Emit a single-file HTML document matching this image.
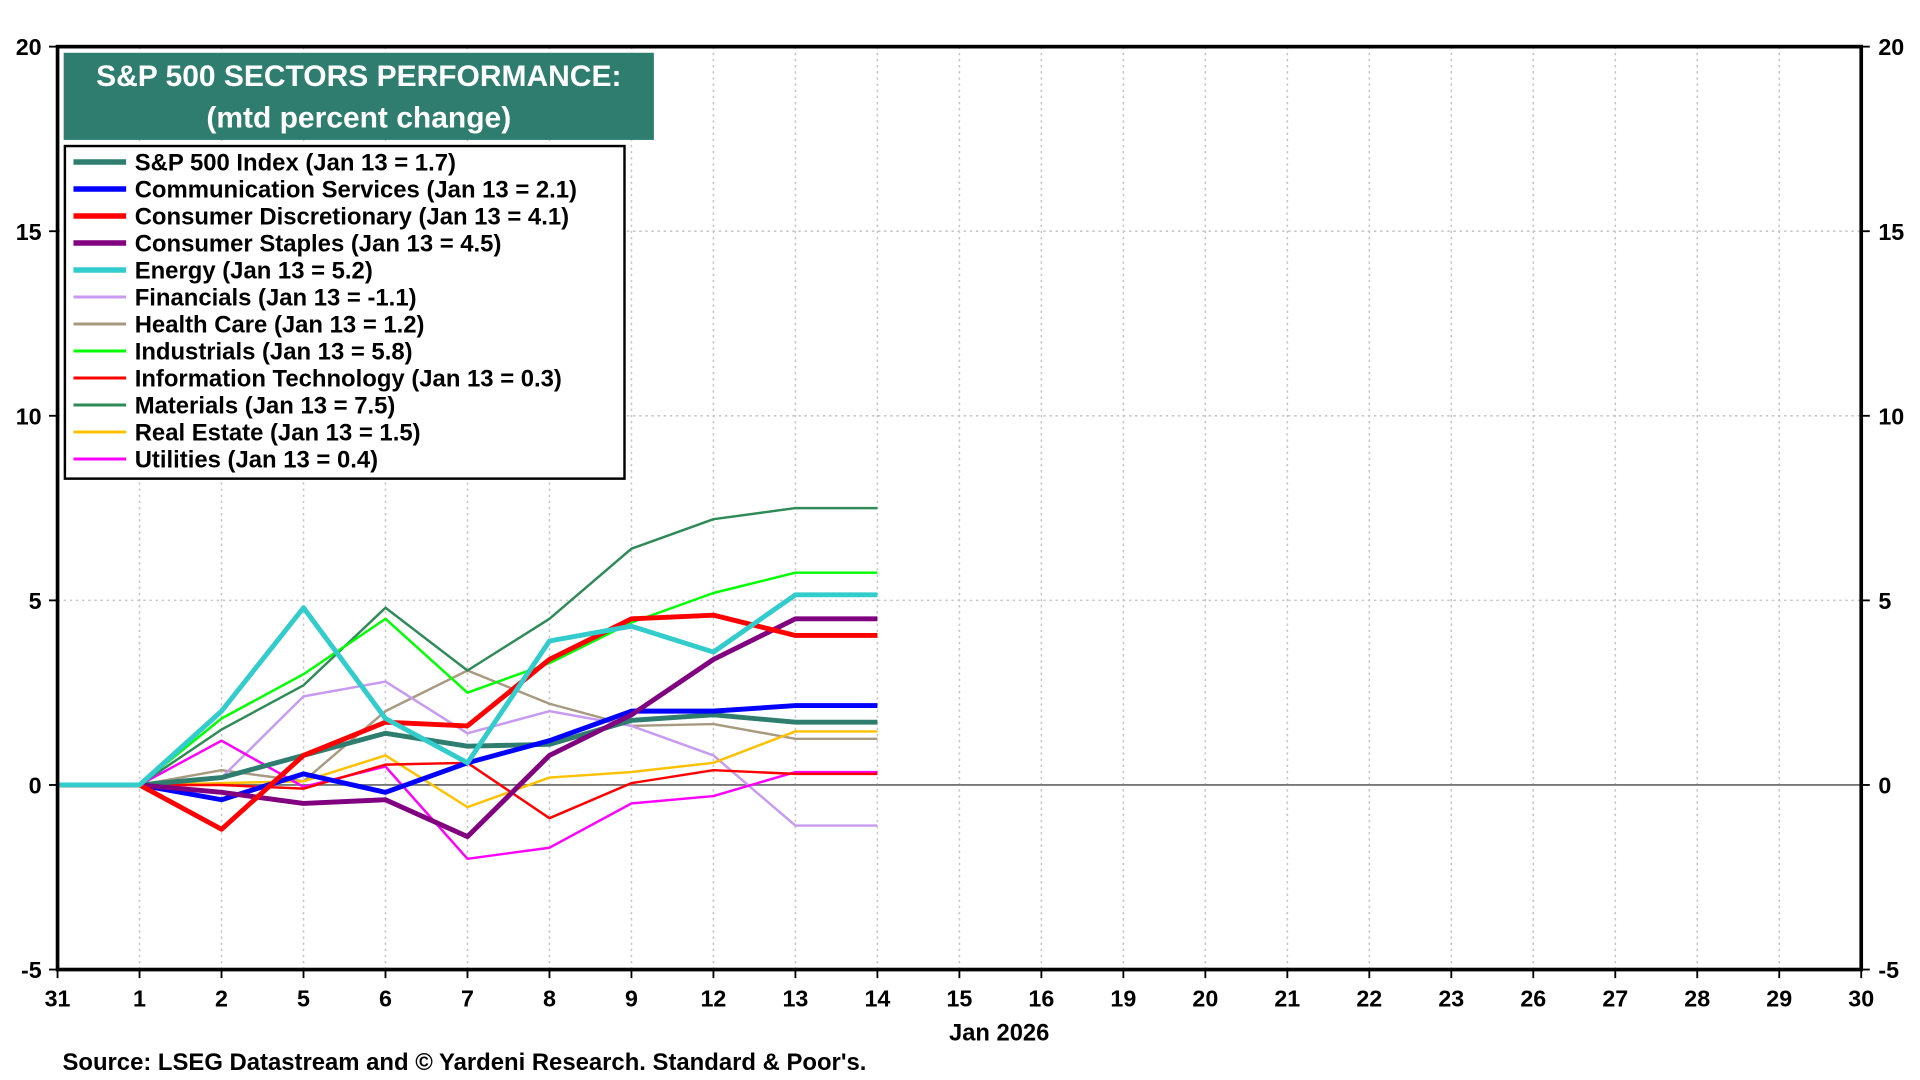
<!DOCTYPE html>
<html><head><meta charset="utf-8"><style>
html,body{margin:0;padding:0;width:100%;height:100%;overflow:hidden;background:#fff}
svg{display:block;width:100vw;height:100vh}
text{font-family:"Liberation Sans",Arial,sans-serif;font-weight:bold}
</style></head><body>
<svg viewBox="0 0 1568 880" preserveAspectRatio="none" xmlns="http://www.w3.org/2000/svg">
<g id="grid" stroke="#c8c8c8" stroke-width="1.3" stroke-dasharray="2,3"></g>
<line x1="47" y1="639.6" x2="1520" y2="639.6" stroke="#777" stroke-width="1.5"/>
<g id="series" fill="none" stroke-linejoin="round"></g>
<rect x="47" y="38" width="1473" height="752" fill="none" stroke="#000" stroke-width="3"/>
<g id="ylab" font-size="19"></g>
<g id="xlab" font-size="19" text-anchor="middle"></g>
<text x="816" y="848" font-size="19.4" text-anchor="middle">Jan 2026</text>
<text x="51" y="872" font-size="19.5">Source: LSEG Datastream and © Yardeni Research. Standard &amp; Poor's.</text>
<rect x="52" y="43" width="482" height="71" fill="#2e7d6e"/>
<text x="293" y="70" font-size="24.5" fill="#fff" text-anchor="middle">S&amp;P 500 SECTORS PERFORMANCE:</text>
<text x="293" y="104" font-size="24.5" fill="#fff" text-anchor="middle">(mtd percent change)</text>
<rect x="53" y="119" width="457" height="271" fill="#fff" stroke="#000" stroke-width="2"/>
<g id="leg" font-size="19.5"></g>
</svg>
<script>
const NS="http://www.w3.org/2000/svg";
function el(p,t,a,txt){const e=document.createElementNS(NS,t);for(const k in a)e.setAttribute(k,a[k]);if(txt!==undefined)e.textContent=txt;document.getElementById(p).appendChild(e);}
const X0=47,DX=(1520-47)/22,Y=v=>639.6-v*30.08;
const xl=[31,1,2,5,6,7,8,9,12,13,14,15,16,19,20,21,22,23,26,27,28,29,30];
xl.forEach((l,i)=>{const x=X0+i*DX;if(i>0&&i<22)el("grid","line",{x1:x,y1:38,x2:x,y2:790});
el("xlab","line",{x1:x,y1:790,x2:x,y2:797,stroke:"#000","stroke-width":1.5});
el("xlab","text",{x:x,y:820},l);});
[-5,0,5,10,15,20].forEach(v=>{const y=Y(v);if(v!==0&&v!==20&&v!==-5)el("grid","line",{x1:47,y1:y,x2:1520,y2:y});
el("ylab","text",{x:34,y:y+7,"text-anchor":"end"},v);el("ylab","text",{x:1534,y:y+7},v);
el("ylab","line",{x1:40,y1:y,x2:47,y2:y,stroke:"#000","stroke-width":1.5});el("ylab","line",{x1:1520,y1:y,x2:1527,y2:y,stroke:"#000","stroke-width":1.5});});
const S=[
["S&P 500 Index (Jan 13 = 1.7)","#2e7d6e",4,[0,0,0.2,0.8,1.4,1.05,1.1,1.75,1.9,1.7,1.7]],
["Communication Services (Jan 13 = 2.1)","#0000ff",4,[0,0,-0.4,0.3,-0.2,0.6,1.2,2.0,2.0,2.15,2.15]],
["Consumer Discretionary (Jan 13 = 4.1)","#ff0000",4,[0,0,-1.2,0.8,1.7,1.6,3.4,4.5,4.6,4.05,4.05]],
["Consumer Staples (Jan 13 = 4.5)","#800080",4,[0,0,-0.2,-0.5,-0.4,-1.4,0.8,1.9,3.4,4.5,4.5]],
["Energy (Jan 13 = 5.2)","#33cccc",4,[0,0,2.0,4.8,1.8,0.6,3.9,4.3,3.6,5.15,5.15]],
["Financials (Jan 13 = -1.1)","#c79bf2",2,[0,0,0.2,2.4,2.8,1.4,2.0,1.6,0.8,-1.1,-1.1]],
["Health Care (Jan 13 = 1.2)","#a89a80",2,[0,0,0.4,0.1,2.0,3.1,2.2,1.6,1.65,1.25,1.25]],
["Industrials (Jan 13 = 5.8)","#00ff00",2,[0,0,1.8,3.0,4.5,2.5,3.3,4.4,5.2,5.75,5.75]],
["Information Technology (Jan 13 = 0.3)","#ff0000",2,[0,0,0.0,-0.1,0.55,0.6,-0.9,0.05,0.4,0.3,0.3]],
["Materials (Jan 13 = 7.5)","#2e8b57",2,[0,0,1.5,2.7,4.8,3.1,4.5,6.4,7.2,7.5,7.5]],
["Real Estate (Jan 13 = 1.5)","#ffc000",2,[0,0,0.05,0.1,0.8,-0.6,0.2,0.35,0.6,1.45,1.45]],
["Utilities (Jan 13 = 0.4)","#ff00ff",2,[0,0,1.2,-0.05,0.5,-2.0,-1.7,-0.5,-0.3,0.35,0.35]]];
const order=[6,5,10,11,8,9,7,0,1,3,2,4];
order.forEach(i=>{const s=S[i];el("series","polyline",{points:s[3].map((v,j)=>(X0+j*DX)+","+Y(v)).join(" "),stroke:s[1],"stroke-width":s[2]});});
S.forEach((s,i)=>{const y=132+i*22;el("leg","line",{x1:60,y1:y,x2:103,y2:y,stroke:s[1],"stroke-width":s[2]+0.5});
el("leg","text",{x:110,y:y+7},s[0]);});
</script>
</body></html>
